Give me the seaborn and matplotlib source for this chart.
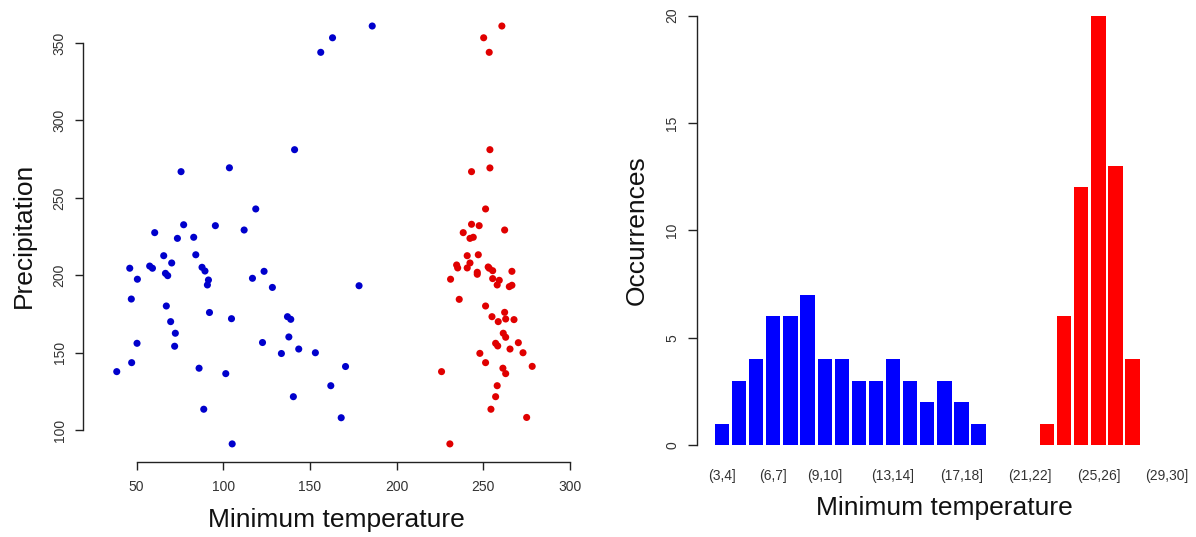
import matplotlib
matplotlib.use("Agg")
import matplotlib.pyplot as plt
import seaborn as sns
import pandas as pd

# ---------------- data ----------------
# scatter: minimum temperature (tenths of degree) vs precipitation
blue_tmin = [156.2, 163.0, 185.9, 141.1, 75.6, 103.5, 118.7, 77.1, 95.4, 112.0,
             60.4, 73.5, 82.9, 65.6, 84.1, 70.2, 46.0, 57.5, 59.1, 87.7,
             89.4, 50.4, 66.6, 67.9, 91.4, 90.8, 46.9, 67.1, 92.0, 104.7,
             69.6, 72.3, 50.2, 71.9, 47.1, 38.5, 86.0, 101.4, 88.7, 105.1,
             123.5, 116.8, 128.3, 178.3, 137.0, 138.9, 122.6, 137.8, 133.5, 143.5,
             153.1, 170.5, 162.0, 140.4, 168.0]
blue_prec = [344.0, 353.4, 361.0, 281.1, 266.9, 269.4, 242.8, 232.6, 232.0, 229.2,
             227.5, 223.8, 224.5, 212.6, 213.2, 207.9, 204.5, 205.9, 204.5, 205.1,
             202.7, 197.4, 201.2, 199.7, 196.9, 193.7, 184.6, 180.1, 175.9, 171.9,
             170.0, 162.5, 156.0, 154.1, 143.5, 137.7, 139.9, 136.4, 113.4, 91.0,
             202.5, 198.0, 192.1, 193.2, 173.2, 171.5, 156.5, 160.1, 149.4, 152.3,
             149.9, 141.0, 128.6, 121.5, 107.9]

red_tmin = [260.7, 250.2, 253.4, 253.8, 253.8, 243.2, 251.3, 243.2, 247.6, 262.3,
            238.4, 242.3, 244.2, 240.7, 247.1, 242.3, 234.6, 235.2, 240.7, 252.8,
            253.4, 255.4, 246.5, 246.5, 266.5, 231.1, 255.4, 259.2, 258.0, 265.0,
            266.5, 236.1, 251.3, 255.0, 258.6, 262.3, 262.9, 267.7, 261.5, 262.9,
            257.1, 258.3, 270.2, 265.4, 272.9, 248.0, 251.3, 261.3, 262.9, 278.2,
            225.9, 258.0, 257.1, 254.4, 275.0, 230.7]
red_prec = [361.0, 353.4, 344.0, 281.1, 269.3, 266.9, 242.8, 232.9, 232.0, 229.2,
            227.5, 223.8, 224.5, 212.6, 213.2, 207.9, 206.6, 204.7, 204.7, 205.3,
            204.5, 202.9, 201.9, 200.6, 202.5, 197.4, 197.8, 196.7, 193.7, 192.6,
            193.5, 184.4, 180.1, 173.2, 170.0, 176.0, 171.7, 171.3, 162.5, 159.9,
            156.0, 154.3, 156.4, 152.3, 149.9, 149.5, 143.5, 139.9, 136.4, 141.1,
            137.7, 128.6, 121.5, 113.4, 108.1, 91.0]

# histogram: occurrences per minimum-temperature class
bins = ["(3,4]", "(4,5]", "(5,6]", "(6,7]", "(7,8]", "(8,9]", "(9,10]",
        "(10,11]", "(11,12]", "(12,13]", "(13,14]", "(14,15]", "(15,16]",
        "(16,17]", "(17,18]", "(18,19]", "(19,20]", "(20,21]", "(21,22]",
        "(22,23]", "(23,24]", "(24,25]", "(25,26]", "(26,27]", "(27,28]",
        "(28,29]", "(29,30]"]
counts = [1, 3, 4, 6, 6, 7, 4, 4, 3, 3, 4, 3, 2, 3, 2, 1,
          0, 0, 0,
          1, 6, 12, 20, 13, 4,
          0, 0]
groups = ["low"] * 16 + ["low"] * 3 + ["high"] * 6 + ["high"] * 2
shown_bins = ["(3,4]", "(6,7]", "(9,10]", "(13,14]", "(17,18]",
              "(21,22]", "(25,26]", "(29,30]"]

# ---------------- style ----------------
sns.set_style("white")
plt.rcParams["font.family"] = ["Liberation Sans", "DejaVu Sans"]

W, H = 1196, 537
fig = plt.figure(figsize=(W / 100, H / 100), dpi=100)


def px_axes(left, top, right, bottom):
    return fig.add_axes([left / W, 1 - bottom / H, (right - left) / W, (bottom - top) / H])


tick_col = "#333333"
lab_fs = 19
tick_fs = 10

# ---------------- scatter ----------------
ax1 = px_axes(83.3, 9.3, 588.7, 461.7)
sc_df = pd.DataFrame({
    "tmin": blue_tmin + red_tmin,
    "prec": blue_prec + red_prec,
    "grp": ["low"] * len(blue_tmin) + ["high"] * len(red_tmin),
})
sns.scatterplot(data=sc_df, x="tmin", y="prec", hue="grp",
                palette={"low": "#0000CC", "high": "#E00000"},
                s=26, linewidth=0, legend=False, ax=ax1)
ax1.set_xlim(19.2, 310.8)
ax1.set_ylim(79.5, 371.8)
ax1.set_xticks([50, 100, 150, 200, 250, 300])
ax1.set_yticks([100, 150, 200, 250, 300, 350])
for s in ["top", "right"]:
    ax1.spines[s].set_visible(False)
ax1.spines["left"].set_bounds(100, 350)
ax1.spines["bottom"].set_bounds(50, 300)
for s in ["left", "bottom"]:
    ax1.spines[s].set_color("#222222")
    ax1.spines[s].set_linewidth(1.0)
ax1.tick_params(axis="both", direction="out", length=6, width=1.0,
                color="#222222", labelcolor=tick_col, labelsize=tick_fs,
                left=True, bottom=True)
ax1.tick_params(axis="x", pad=7)
ax1.tick_params(axis="y", pad=6)
for t in ax1.get_yticklabels():
    t.set_rotation(90)
    t.set_va("center")
ax1.set_xlabel("Minimum temperature", fontsize=lab_fs, color="#111111")
ax1.set_ylabel("Precipitation", fontsize=lab_fs, color="#111111")
ax1.xaxis.label.set_va("center")
ax1.yaxis.label.set_va("center")
ax1.xaxis.set_label_coords(0.5, -0.1295)
ax1.yaxis.set_label_coords(-0.1167, 0.5)

# ---------------- histogram ----------------
ax2 = px_axes(696.5, -1.5, 1192.3, 462.2)
hist_df = pd.DataFrame({"bin": bins, "n": counts, "grp": groups})
sns.barplot(data=hist_df, x="bin", y="n", hue="grp", order=bins,
            palette={"low": "#0000FF", "high": "#FF0000"}, saturation=1,
            dodge=False, width=0.833, linewidth=0, edgecolor="none",
            legend=False, ax=ax2)
ax2.set_xlim(-1.49, 27.49)
ax2.set_ylim(-0.8, 20.8)
ax2.set_xticks(range(len(bins)))
ax2.set_xticklabels([b if b in shown_bins else "" for b in bins])
ax2.set_yticks([0, 5, 10, 15, 20])
for s in ["top", "right", "bottom"]:
    ax2.spines[s].set_visible(False)
ax2.spines["left"].set_bounds(0, 20)
ax2.spines["left"].set_color("#222222")
ax2.spines["left"].set_linewidth(1.0)
ax2.tick_params(axis="y", direction="out", length=6.5, width=1.0,
                color="#222222", labelcolor=tick_col, labelsize=tick_fs,
                left=True, pad=6)
ax2.tick_params(axis="x", length=0, labelcolor=tick_col, labelsize=tick_fs, pad=5)
for t in ax2.get_yticklabels():
    t.set_rotation(90)
    t.set_va("center")
ax2.set_xlabel("Minimum temperature", fontsize=lab_fs, color="#111111")
ax2.set_ylabel("Occurrences", fontsize=lab_fs, color="#111111")
ax2.xaxis.label.set_va("center")
ax2.yaxis.label.set_va("center")
ax2.xaxis.set_label_coords(0.5, -0.0994)
ax2.yaxis.set_label_coords(-0.1208, 0.5)

fig.savefig("out.png", dpi=100, facecolor="white")
